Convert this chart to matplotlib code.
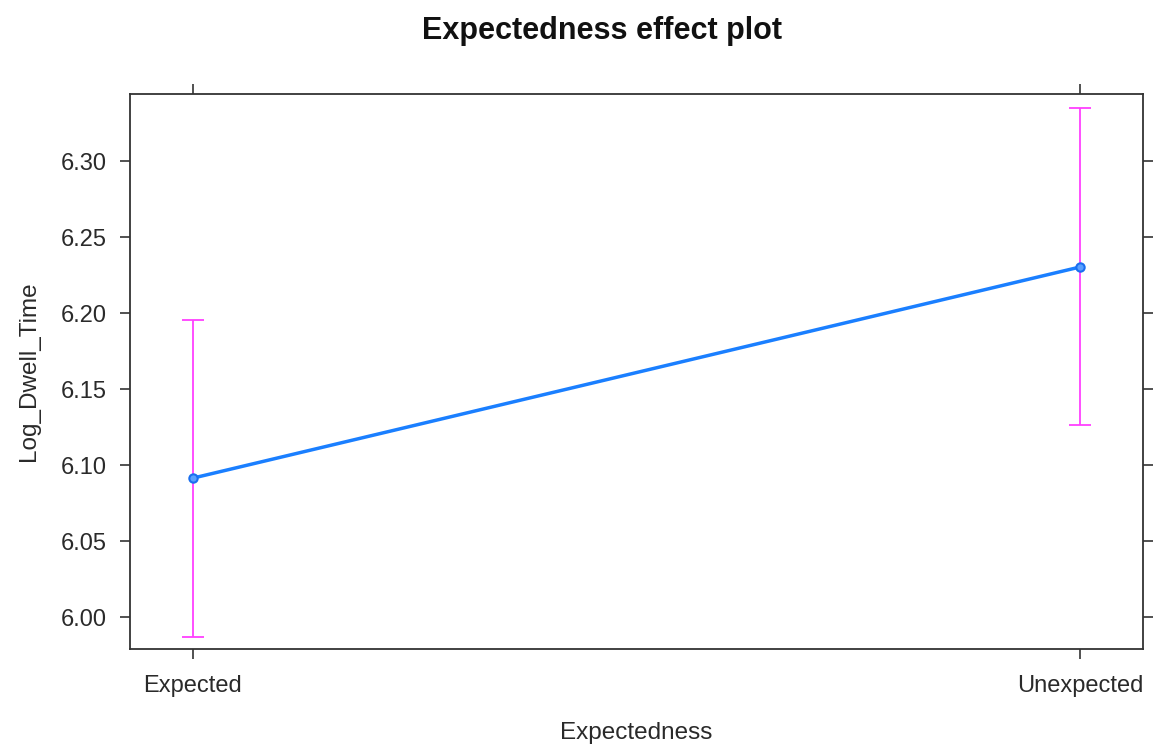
import matplotlib
matplotlib.use("Agg")
import matplotlib.pyplot as plt
import numpy as np

# Effect estimates with 95% confidence limits
levels = ["Expected", "Unexpected"]
fit = [6.0914, 6.2303]
lower = [5.9868, 6.1263]
upper = [6.1954, 6.3349]
yticks = [6.00, 6.05, 6.10, 6.15, 6.20, 6.25, 6.30]

plt.rcParams["font.family"] = ["Liberation Sans", "DejaVu Sans"]

fig = plt.figure(figsize=(11.55, 7.47), dpi=100)
ax = fig.add_axes([0.1126, 0.1312, 0.8770, 0.7430])

x = np.arange(len(levels))
fit_a = np.array(fit)
yerr = np.vstack([fit_a - np.array(lower), np.array(upper) - fit_a])

ax.errorbar(x, fit_a, yerr=yerr, fmt="none", ecolor="#ff40ff",
            elinewidth=1.3, capsize=8, capthick=1.3, zorder=2)
ax.plot(x, fit_a, color="#1a7fff", lw=2.5, marker="o", markersize=6,
        markerfacecolor="#5aa0ff", markeredgecolor="#1a6fef",
        markeredgewidth=1.5, zorder=3)

ax.set_xlim(-0.0708, 1.0708)
ax.set_ylim(5.979, 6.3441)
ax.set_xticks(x)
ax.set_xticklabels(levels)
ax.set_yticks(yticks)
ax.set_yticklabels([f"{v:.2f}" for v in yticks])

ax.tick_params(axis="both", direction="out", length=7, width=1.2,
               color="#333333", labelsize=17, labelcolor="#2a2a2a",
               top=True, right=True, labeltop=False, labelright=False)
ax.tick_params(axis="x", pad=12)
ax.tick_params(axis="y", pad=10)
for s in ax.spines.values():
    s.set_linewidth(1.3)
    s.set_color("#333333")

ax.set_xlabel("Expectedness", fontsize=17.5, color="#2a2a2a", labelpad=18)
ax.set_ylabel("Log_Dwell_Time", fontsize=17.5, color="#2a2a2a", labelpad=15)
fig.suptitle("Expectedness effect plot", fontsize=22, fontweight="bold",
             color="#111111", x=0.521, y=0.978)

fig.savefig("out.png", dpi=100, facecolor="white")
